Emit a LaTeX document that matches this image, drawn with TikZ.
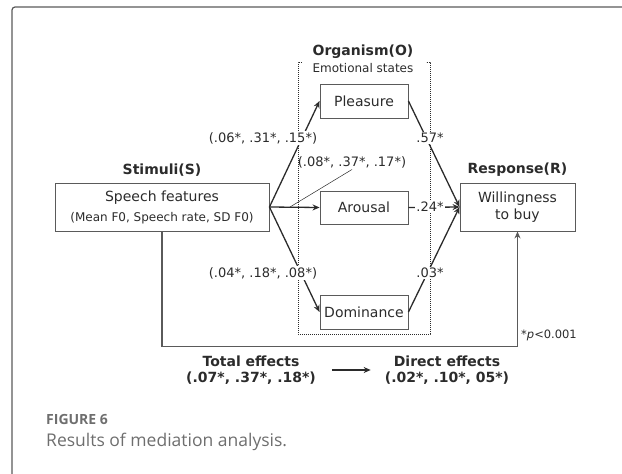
\documentclass[tikz,border=0pt]{standalone}
\usepackage{fontspec}
\setmainfont{DejaVu Sans}
\newfontfamily\capfont{Open Sans}
\usetikzlibrary{arrows.meta, positioning}
\definecolor{boxgray}{HTML}{5A5A5A}
\definecolor{txtgray}{HTML}{2B2B2B}
\definecolor{capgray}{HTML}{6E6E6E}
\tikzset{
  box/.style={draw=boxgray, line width=0.9pt, inner sep=0pt, align=center, text=txtgray, font=\fontsize{14}{17}\selectfont},
  head/.style={font=\fontsize{14}{16}\selectfont\bfseries, text=txtgray, inner sep=1pt, align=center},
  coef/.style={fill=white, inner sep=1.5pt, font=\fontsize{13}{15}\selectfont, text=txtgray},
  flow/.style={-{Stealth[length=7pt,width=6pt]}, line width=1.3pt, draw=txtgray},
  brk/.style={draw=txtgray, line width=0.6pt, dash pattern=on 1.2pt off 0.8pt},
}

\begin{document}
\begin{tikzpicture}[x=1pt, y=-1pt]
\useasboundingbox (0,0) rectangle (622,474);
% outer frame
\draw[boxgray, line width=1.2pt, rounded corners=3pt] (12,490) -- (12,7) -- (640,7);

% boxes
\node (stim) [box, minimum width=214pt, minimum height=48pt] at (162,207) {Speech features\\[3pt]{\fontsize{12}{14}\selectfont (Mean F0, Speech rate, SD F0)}};
\node (pls) [box, minimum width=88pt, minimum height=34pt] at (364,101) {Pleasure};
\node (aro) [box, minimum width=88pt, minimum height=33pt] at (364,207.5) {Arousal};
\node (dom) [box, minimum width=88pt, minimum height=34pt] at (364,312) {Dominance};
\node (resp) [box, minimum width=115pt, minimum height=48pt] at (517.5,207) {Willingness\\to buy};

% headings
\node (stimhd) [head, above=5pt of stim] {Stimuli(S)};
\node (resphd) [head, above=5pt of resp] {Response(R)};
\node (orghd) [head] at (363,52) {Organism(O)};
\node (emo) [font=\fontsize{12}{14}\selectfont, text=txtgray, below=0pt of orghd] {Emotional states};

% organism bracket
\draw[brk] (302,62) -- (298,62) -- (298,334) -- (430,334) -- (430,62) -- (426,62);

% paths
\draw[flow] (stim.east) -- (pls.west);
\draw[flow] (stim.east) -- (aro.west);
\draw[flow] (stim.east) -- (dom.west);
\draw[flow] (pls.east) -- (resp.west);
\draw[flow] (aro.east) -- (resp.west);
\draw[flow] (dom.east) -- (resp.west);

% coefficients
\node (c1) [coef] at (263,138) {(.06*, .31*, .15*)};
\node (c2) [coef, fill=none] at (352,162) {(.08*, .37*, .17*)};
\node (c3) [coef] at (263,273) {(.04*, .18*, .08*)};
\node (c4) [coef] at (430,138) {.57*};
\node (c5) [coef] at (430,207) {.24*};
\node (c6) [coef] at (430,273) {.03*};
\coordinate (hook) at (290,207);
\draw[txtgray, line width=0.5pt] (c2.south) -- (hook);

% direct path
\draw[-{Stealth[length=7pt,width=6pt]}, line width=1.1pt, boxgray] (stim.south) -- ++(0,115) -| (resp.south);
\node (pval) [anchor=west, font=\fontsize{11.5}{13}\selectfont, text=txtgray, inner sep=0pt] at (521,335) {*\textit{p}<0.001};

% effects
\node (tot) [head] at (251,370) {Total effects\\(.07*, .37*, .18*)};
\node (dirfx) [head] at (447,370) {Direct effects\\(.02*, .10*, 05*)};
\draw[flow, line width=1.5pt] ([xshift=15pt]tot.east) -- ([xshift=-13pt]dirfx.west);

% caption
\node (figno) [anchor=west, text=capgray, font=\capfont\bfseries\fontsize{14}{16}\selectfont, inner sep=0pt] at (46,419) {FIGURE 6};
\node (cap) [anchor=west, text=capgray, font=\capfont\fontsize{17.5}{20}\selectfont, inner sep=0pt] at (46,442) {Results of mediation analysis.};
\end{tikzpicture}
\end{document}
